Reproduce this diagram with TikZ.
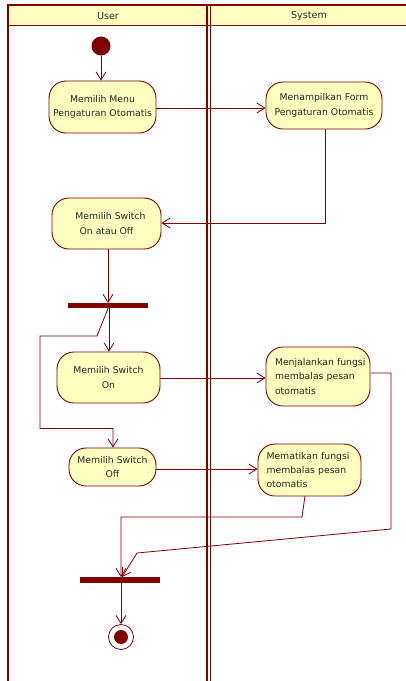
\documentclass[tikz,border=0pt]{standalone}
\usepackage{fontspec}
\setmainfont{DejaVu Sans}
\usetikzlibrary{arrows.meta}
\definecolor{umlred}{RGB}{128,0,0}
\definecolor{umlfill}{RGB}{255,255,192}
\definecolor{umltext}{RGB}{40,40,40}
\tikzset{
  act/.style={draw=umlred, line width=0.9pt, fill=umlfill, rounded corners=17pt,
    inner sep=0pt, align=center, text=umltext,
    font=\fontsize{9.3}{14.3}\selectfont},
  barnode/.style={fill=umlred, draw=none, inner sep=0pt, minimum width=80pt, minimum height=5.5pt},
  flow/.style={draw=umlred, line width=0.8pt, -{Straight Barb[length=8pt,width=10pt]}},
  lane/.style={draw=umlred, line width=1.6pt},
  hdr/.style={text=umltext, font=\fontsize{9.6}{11}\selectfont}
}
\begin{document}
\begin{tikzpicture}[x=1pt,y=-1pt]
\useasboundingbox (0,0) rectangle (406,681);
\fill[white] (0,0) rectangle (406,681);
% swimlanes
\fill[umlfill] (8,5) rectangle (406,25);
\draw[lane] (8,681) -- (8,5) -- (406,5);
\draw[umlred, line width=1pt] (8,25) -- (406,25);
\draw[lane] (207,5) -- (207,681);
\draw[lane] (210.5,5) -- (210.5,681);
\node[hdr] (huser) at (108,16) {User};
\node[hdr] (hsys) at (309,16) {System};
% nodes
\node[circle, fill=umlred, inner sep=0pt, minimum size=19pt] (init) at (101,46) {};
\node[act, minimum width=107pt, minimum height=52pt] (a1) at (102.5,107) {Memilih Menu\\Pengaturan Otomatis};
\node[act, minimum width=116pt, minimum height=47pt] (a2) at (324,105.5) {Menampilkan Form\\Pengaturan Otomatis};
\node[act, minimum width=109pt, minimum height=51pt] (a3) at (106.5,223.5) {\hspace*{8pt}Memilih Switch\\On atau Off};
\node[barnode] (b1) at (108,305.5) {};
\node[act, minimum width=103pt, minimum height=51pt] (a4) at (108.5,377.5) {Memilih Switch\\On};
\node[act, minimum width=87pt, minimum height=38pt] (a5) at (112.5,467) {Memilih Switch\\Off};
\node[act, minimum width=104pt, minimum height=59pt, align=left, text width=100pt] (a6) at (318,376.5) {\hspace*{7pt}Menjalankan fungsi\\\hspace*{7pt}membalas pesan\\\hspace*{7pt}otomatis};
\node[act, minimum width=103pt, minimum height=52pt, align=left, text width=98pt] (a7) at (309.5,470) {\hspace*{6pt}Mematikan fungsi\\\hspace*{6pt}membalas pesan\\\hspace*{6pt}otomatis};
\node[barnode] (b2) at (120,580) {};
\node[circle, draw=umlred, line width=0.8pt, fill=white, minimum size=25pt, inner sep=0pt] (fin) at (121,637) {};
\node[circle, fill=umlred, minimum size=14pt, inner sep=0pt] (finin) at (fin.center) {};
% helper coordinates
\coordinate (c1) at (97,336);
\coordinate (c2) at (40,336);
\coordinate (c3) at (40,428.5);
\coordinate (c4) at (113,428.5);
\coordinate (d1) at (302,517);
\coordinate (d2) at (121,517);
\coordinate (e0) at (371,373);
\coordinate (e1) at (391,373);
\coordinate (e2) at (391,529);
\coordinate (e3) at (137,553);
\coordinate (s7) at (305,496);
% connectors
\draw[flow] (init) -- (a1.north -| init);
\draw[flow] (a1.east |- 0,108) -- (a2.west |- 0,108);
\draw[flow] (a2.south -| 325,0) -- (325,223) -- (a3.east |- 0,223);
\draw[flow] (a3.south -| 108,0) -- (108,303);
\draw[flow] (109,306) -- (a4.north -| 109,0);
\draw[flow] (109,306) -- (c1) -- (c2) -- (c3) -- (c4) -- (a5.north -| c4);
\draw[flow] (a4.east |- 0,378) -- (a6.west |- 0,378);
\draw[flow] (a5.east |- 0,469) -- (a7.west |- 0,469);
\draw[flow] (s7) -- (d1) -- (d2) -- (b2.north -| d2);
\draw[flow] (e0) -- (e1) -- (e2) -- (e3) -- (122,577);
\draw[flow] (b2.south -| fin) -- (fin.north);
\end{tikzpicture}
\end{document}
